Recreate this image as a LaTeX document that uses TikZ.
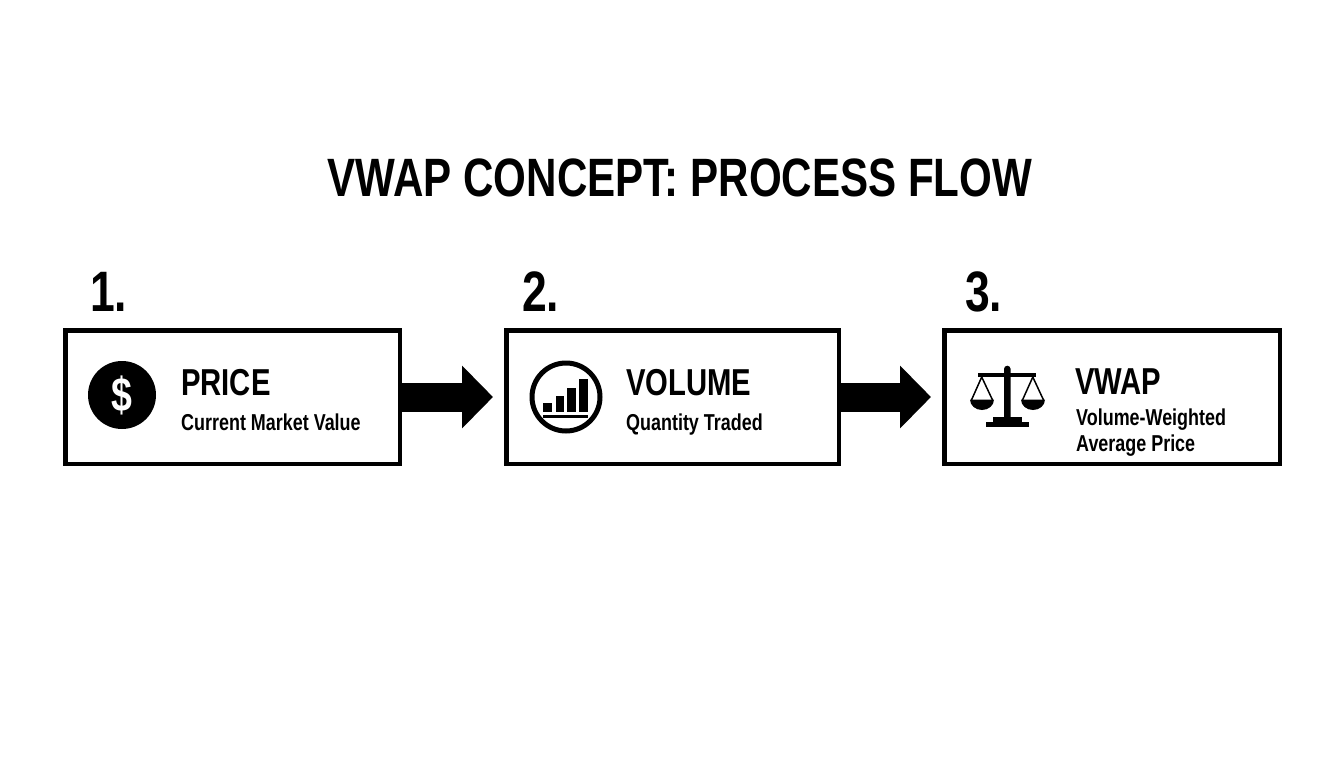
\documentclass[tikz,border=0pt]{standalone}
\usepackage{fontspec}
\setmainfont{Liberation Sans}[FakeStretch=0.78]
\usetikzlibrary{arrows.meta}
\tikzset{
    flowbox/.style={draw=black, line width=4.5pt, fill=white, inner sep=0pt, minimum height=133.5pt},
    flowarrow/.style={draw=black, line width=29pt, -{Triangle[length=31pt, width=61pt]}, shorten >=11pt},
    bigtxt/.style={inner sep=0pt, anchor=base, font=\fontsize{54}{60}\selectfont\bfseries},
    numtxt/.style={inner sep=0pt, anchor=base west, font=\fontsize{57}{60}\selectfont\bfseries},
    headtxt/.style={inner sep=0pt, anchor=base west, font=\fontsize{37.5}{42}\selectfont\bfseries},
    subtxt/.style={inner sep=0pt, anchor=base west, font=\fontsize{23}{26}\selectfont\bfseries}
}

\begin{document}
\begin{tikzpicture}[x=1pt, y=-1pt]
    \useasboundingbox (0, 0) rectangle (1344, 768);

    \node[bigtxt] (title) at (680, 196) {VWAP CONCEPT: PROCESS FLOW};

    \node[numtxt] (numa) at (90, 311) {1.};
    \node[numtxt] (numb) at (522, 311) {2.};
    \node[numtxt] (numc) at (965, 311) {3.};

    \node[flowbox, minimum width=334.5pt] (price) at (232.5, 397) {};
    \node[flowbox, minimum width=332.5pt] (volume) at (672.5, 397) {};
    \node[flowbox, minimum width=335.5pt] (vwap) at (1112, 397) {};

    \draw[flowarrow] (price.east) -- (volume.west);
    \draw[flowarrow] (volume.east) -- (vwap.west);

    \node[circle, fill=black, text=white, inner sep=0pt, minimum size=68pt,
        font=\fontsize{48}{48}\selectfont\bfseries] (dollar) at (122, 395) {\$};
    \node[headtxt] (pricehead) at (181, 395) {PRICE};
    \node[subtxt] (pricesub) at (181, 430) {Current Market Value};

    \node[circle, draw=black, line width=5pt, inner sep=0pt, minimum size=68pt] (chart) at (566, 397) {};
    \fill (543.3, 402.7) rectangle (551.7, 411.7);
    \fill (555.7, 395.7) rectangle (563.7, 411.7);
    \fill (567.3, 388.3) rectangle (575.7, 411.7);
    \fill (579.3, 378.7) rectangle (587.7, 411.7);
    \fill (542.7, 414.5) rectangle (588.3, 417.5);
    \node[headtxt] (volumehead) at (626, 395) {VOLUME};
    \node[subtxt] (volumesub) at (626, 430) {Quantity Traded};

    \fill (1004, 369) arc (180:360:3.3) -- (1010.6, 421.7) -- (1004, 421.7) -- cycle;
    \fill (978.3, 373.3) rectangle (1036, 377.3);
    \fill (993.3, 417.3) rectangle (1021.7, 422);
    \fill (985.7, 421.7) rectangle (1029, 426.7);
    \draw[line width=1.5pt]
    (971.5, 400) -- (981.7, 377) -- (992.5, 400)
    (1022.5, 400) -- (1032.8, 377) -- (1043.5, 400);
    \fill (970, 399.5) -- (994, 399.5) arc (0:180:12 and 10.5) -- cycle;
    \fill (1021, 399.5) -- (1045, 399.5) arc (0:180:12 and 10.5) -- cycle;
    \node[headtxt] (vwaphead) at (1075, 394) {VWAP};
    \node[subtxt] (vwapsuba) at (1076, 425) {Volume-Weighted};
    \node[subtxt] (vwapsubb) at (1076, 451) {Average Price};
\end{tikzpicture}
\end{document}
